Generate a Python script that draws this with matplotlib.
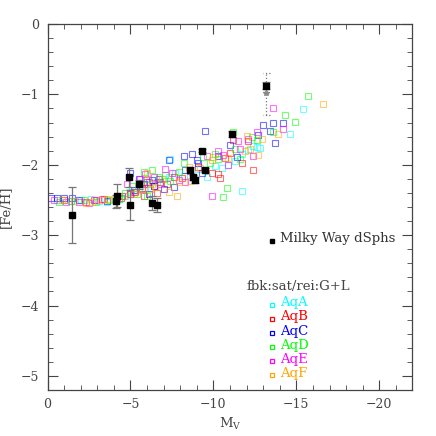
import matplotlib
matplotlib.use("Agg")
import matplotlib.pyplot as plt
from matplotlib.ticker import MultipleLocator

plt.rcParams['font.family'] = ['DejaVu Serif']
plt.rcParams['axes.unicode_minus'] = True

# simulated satellites, [Mv, [Fe/H]] per halo
aqa_mv = [-0.6, -1.4, -2.0, -2.6, -3.1, -3.6, -4.3, -4.7, -5.0, -5.3, -5.6, -5.9, -6.2, -6.6, -7.0, -7.3,
          -7.4, -7.7, -8.2, -9.1, -9.6, -10.1, -10.5, -10.9, -11.3, -11.7, -12.4, -12.6, -12.8, -14.6, -15.4,
          -11.7, -12.1]
aqa_feh = [-2.50, -2.52, -2.50, -2.49, -2.52, -2.53, -2.48, -2.44, -2.38, -2.36, -2.30, -2.33, -2.27, -2.25,
           -2.20, -2.18, -1.92, -2.12, -2.16, -2.06, -2.17, -2.02, -2.05, -2.01, -1.95, -2.37, -1.74, -1.75,
           -1.76, -1.57, -1.21, -1.85, -1.79]

aqb_mv = [-1.0, -2.3, -2.8, -3.4, -4.4, -5.0, -5.3, -5.7, -6.0, -6.4, -6.8, -7.2, -7.6, -8.1, -9.1, -9.9,
          -10.3, -10.4, -10.7, -11.0, -11.2, -11.7, -12.1, -12.4, -5.8, -6.6]
aqb_feh = [-2.50, -2.53, -2.50, -2.48, -2.47, -2.41, -2.38, -2.33, -2.25, -2.30, -2.24, -2.28, -2.17, -2.19,
           -2.03, -2.11, -2.13, -2.19, -1.90, -1.84, -1.65, -1.97, -1.66, -2.07, -2.44, -2.40]

aqc_mv = [-0.2, -0.6, -1.0, -1.5, -1.9, -3.6, -4.5, -5.0, -5.2, -5.5, -5.8, -6.1, -6.4, -6.7, -7.0, -7.3,
          -7.6, -8.2, -8.3, -8.7, -9.0, -9.1, -9.3, -9.5, -10.3, -11.0, -11.4, -12.7, -13.0, -13.4, -13.6,
          -13.7, -14.2, -6.3]
aqc_feh = [-2.47, -2.47, -2.47, -2.47, -2.50, -2.52, -2.44, -2.11, -2.36, -2.20, -2.28, -2.42, -2.30, -2.20,
           -2.35, -1.93, -2.31, -1.88, -2.08, -1.85, -1.93, -1.98, -2.12, -1.52, -1.87, -1.72, -1.89, -1.58,
           -1.43, -1.52, -1.41, -1.69, -1.41, -2.22]

aqd_mv = [-0.7, -1.4, -2.2, -2.9, -3.7, -4.3, -4.7, -5.1, -5.5, -5.8, -6.0, -6.3, -6.7, -7.1, -7.4, -7.9,
          -8.2, -9.4, -9.8, -10.1, -10.3, -10.6, -10.8, -11.2, -11.3, -11.6, -12.3, -12.6, -13.6, -14.3,
          -14.9, -15.7, -5.4, -6.0]
aqd_feh = [-2.53, -2.52, -2.50, -2.53, -2.50, -2.48, -2.40, -2.30, -2.26, -2.10, -2.20, -2.08, -2.17, -2.14,
           -2.23, -2.10, -1.97, -1.89, -1.98, -1.85, -1.92, -2.46, -2.33, -1.54, -1.78, -1.92, -1.60, -1.65,
           -1.53, -1.30, -1.39, -1.03, -2.42, -2.45]

aqe_mv = [-0.4, -1.1, -1.9, -2.5, -2.9, -3.3, -4.2, -4.8, -5.2, -5.6, -5.9, -6.1, -6.4, -6.8, -7.1, -7.5,
          -7.9, -8.3, -8.6, -9.6, -9.9, -10.3, -10.6, -10.9, -11.5, -11.6, -12.1, -12.4, -12.6, -13.6, -14.2,
          -5.0, -5.7]
aqe_feh = [-2.50, -2.53, -2.53, -2.54, -2.50, -2.49, -2.46, -2.27, -2.38, -2.20, -2.13, -2.24, -2.18, -2.28,
           -2.06, -2.12, -2.21, -2.24, -2.09, -1.88, -2.45, -1.81, -1.86, -2.00, -1.66, -1.77, -1.64, -1.87,
           -1.53, -1.19, -1.49, -2.41, -2.34]

aqf_mv = [-0.9, -1.6, -2.3, -2.7, -3.2, -3.6, -4.0, -4.6, -5.2, -5.7, -6.0, -6.3, -6.5, -6.9, -7.3, -7.8,
          -7.9, -8.5, -8.6, -9.2, -9.9, -10.0, -10.9, -11.9, -12.0, -12.2, -12.7, -12.9, -13.9, -16.6, -6.2]
aqf_feh = [-2.50, -2.52, -2.54, -2.53, -2.50, -2.49, -2.48, -2.45, -2.42, -2.36, -2.12, -2.27, -2.31, -2.20,
           -2.39, -2.45, -2.25, -2.03, -2.23, -2.05, -1.93, -1.89, -1.90, -1.80, -1.59, -1.77, -1.86, -1.63,
           -1.56, -1.13, -2.35]

halo_names = ["AqA", "AqB", "AqC", "AqD", "AqE", "AqF"]
halo_colors = ["#00ffff", "#ff0000", "#0000ff", "#00ff00", "#ff00ff", "#ffa500"]
halo_data = [(aqa_mv, aqa_feh), (aqb_mv, aqb_feh), (aqc_mv, aqc_feh),
             (aqd_mv, aqd_feh), (aqe_mv, aqe_feh), (aqf_mv, aqf_feh)]

# observed Milky Way dwarf spheroidals
mw_mv = [-1.5, -4.1, -4.2, -4.9, -5.0, -5.5, -6.3, -6.6, -8.6, -8.8, -8.9, -9.3, -9.5, -11.1, -13.2]
mw_feh = [-2.71, -2.52, -2.44, -2.18, -2.57, -2.28, -2.54, -2.57, -2.07, -2.18, -2.22, -1.80, -2.07, -1.56, -0.88]
mw_err = [0.40, 0.09, 0.16, 0.13, 0.21, 0.06, 0.10, 0.10, 0.04, 0.03, 0.04, 0.02, 0.03, 0.04, 0.05]
# alternative estimate for the brightest one (dotted range + star)
alt_mv = -13.2
alt_feh = -0.98
alt_lo, alt_hi = -1.30, -0.69

fig = plt.figure(figsize=(4.36, 4.36), dpi=100)
ax = fig.add_axes([0.109, 0.1055, 0.837, 0.8395])

for (mv, feh), c in zip(halo_data, halo_colors):
    ax.plot(mv, feh, 's', mfc='none', mec=c, ms=5, mew=0.8, alpha=0.55, zorder=2)

ax.errorbar(mw_mv, mw_feh, yerr=mw_err, fmt='s', color='black', ms=4, ecolor='#777777',
            elinewidth=0.9, capsize=3, capthick=0.9, zorder=4)
ax.vlines(alt_mv, alt_lo, alt_hi, colors='#777777', linestyles=':', lw=0.9, zorder=3)
ax.plot([alt_mv - 0.2, alt_mv + 0.2], [alt_lo, alt_lo], ':', color='#777777', lw=0.9)
ax.plot([alt_mv - 0.2, alt_mv + 0.2], [alt_hi, alt_hi], ':', color='#777777', lw=0.9)
ax.plot(alt_mv, alt_feh, '*', color='#888888', ms=4, zorder=3)

ax.set_xlim(0, -22)
ax.set_ylim(-5.2, 0)
ax.xaxis.set_major_locator(MultipleLocator(5))
ax.xaxis.set_minor_locator(MultipleLocator(1))
ax.yaxis.set_major_locator(MultipleLocator(1))
ax.yaxis.set_minor_locator(MultipleLocator(0.2))
ax.tick_params(which='both', direction='in', top=True, right=True, colors='#444444',
               labelsize=9, labelcolor='#444444')
ax.tick_params(which='major', length=7, width=0.8, pad=6)
ax.tick_params(which='minor', length=3.5, width=0.6)
for s in ax.spines.values():
    s.set_color('#444444')
    s.set_linewidth(0.9)

ax.set_xlabel("M$_\\mathregular{V}$", fontsize=9.5, color='#444444', labelpad=3)
ax.set_ylabel("[Fe/H]", fontsize=9.5, color='#444444', labelpad=6)

# legend drawn by hand
ax.plot(0.614, 0.406, 's', color='black', ms=3, transform=ax.transAxes)
ax.text(0.638, 0.415, "Milky Way dSphs", transform=ax.transAxes, fontsize=9.5,
        color='#333333', va='center')
ax.text(0.546, 0.283, "fbk:sat/rei:G+L", transform=ax.transAxes, fontsize=9.5,
        color='#444444', va='center')
for i, (name, c) in enumerate(zip(halo_names, halo_colors)):
    y = 0.238 - i * 0.0385
    ax.plot(0.614, y - 0.005, 's', mfc='none', mec=c, ms=3, mew=0.9, transform=ax.transAxes)
    ax.text(0.638, y, name, transform=ax.transAxes, fontsize=9.5, color=c, va='center')

fig.savefig("out.png", dpi=100)
